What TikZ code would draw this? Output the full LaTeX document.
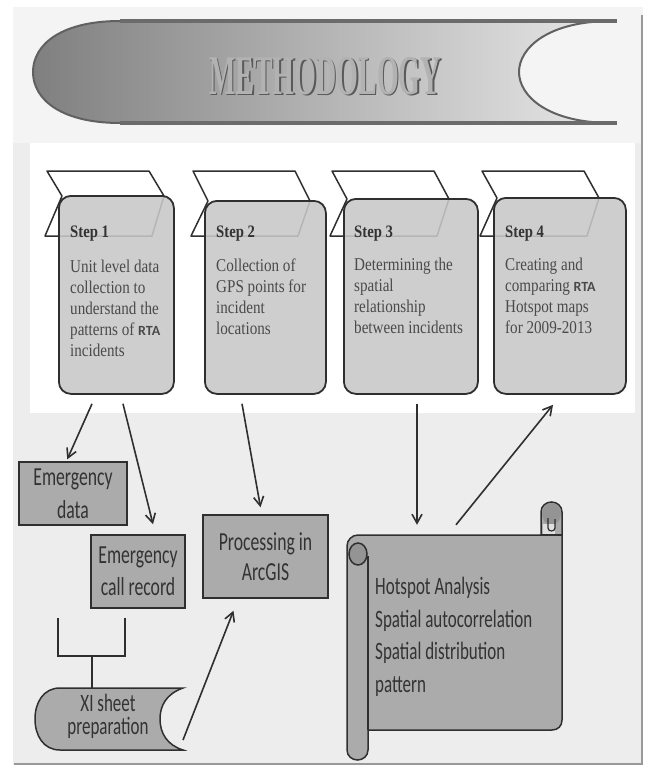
\documentclass[tikz,border=0pt]{standalone}
\usepackage{fontspec}
\setmainfont{Liberation Serif}
\newfontfamily\stepfont[FakeStretch=0.84]{Liberation Serif}
\newfontfamily\boxfont[FakeStretch=0.68]{Carlito}
\newfontfamily\rtafont{Carlito}
\newfontfamily\titlefont[FakeStretch=0.5]{Liberation Serif}
\usetikzlibrary{arrows.meta,calc}
\definecolor{stepfill}{HTML}{C8C8C8}
\definecolor{boxfill}{HTML}{ABABAB}
\definecolor{edgec}{HTML}{2F2F2F}
\definecolor{txt}{HTML}{4A4A4A}
\definecolor{txtdark}{HTML}{333333}
\definecolor{lowbg}{HTML}{EDEDED}
\definecolor{topbg}{HTML}{F4F4F4}
\newcommand\rta{{\rtafont\bfseries\fontsize{14}{14}\selectfont RTA}}
\newcommand\steptab[2]{%
  \draw[edgec, line width=1.5pt, line join=round] (#1-11,171) -- (#1+91,171) -- (#1+106,#2+1) -- (#1+94,236) -- (#1-13,236) -- (#1+4,#2+1) -- cycle;}
\begin{document}
\begin{tikzpicture}[x=1pt,y=-1pt,
  stepbox/.style={draw=edgec, line width=1.8pt, fill=stepfill, fill opacity=0.88, draw opacity=1, rounded corners=12pt, inner sep=0, anchor=north west},
  steptitle/.style={inner sep=0, anchor=base west, text=txtdark, font=\stepfont\bfseries\fontsize{17.5}{17.5}\selectfont},
  stepbody/.style={inner sep=0, anchor=north west, align=left, text=txt, font=\stepfont\fontsize{18}{21}\selectfont},
  lowbox/.style={draw=edgec, line width=1.5pt, fill=boxfill, inner sep=0, align=center, text=txtdark},
  conn/.style={draw=edgec, line width=1.6pt, -{Straight Barb[length=9pt,width=10pt]}},
  shapeline/.style={draw=edgec, line width=1.5pt, fill=boxfill}]
\useasboundingbox (0,0) rectangle (648,768);
% background and frame
\fill[white] (0,0) rectangle (648,768);
\fill[lowbg] (13,7) rectangle (643,765);
\fill[topbg] (13,7) rectangle (643,143);
\draw[black!40, line width=2.5pt] (642,15) -- (642,764) -- (14,764);
\fill[white] (30,143) rectangle (635,413);
% banner
\path[left color=black!50, right color=black!9]
  (120,21) -- (612,21) .. controls (548,21) and (519,48) .. (519,72)
  .. controls (519,96) and (548,123) .. (612,123) -- (120,123)
  .. controls (62,123) and (33,100) .. (33,72) .. controls (33,44) and (62,21) .. (120,21) -- cycle;
\draw[black!62, line width=2pt] (612,21) .. controls (548,21) and (519,48) .. (519,72)
  .. controls (519,96) and (548,123) .. (612,123);
\draw[black!62, line width=2pt] (120,123) .. controls (62,123) and (33,100) .. (33,72) .. controls (33,44) and (62,21) .. (120,21);
\draw[black!58, line width=4pt] (120,21) -- (617,21);
\draw[black!58, line width=4pt] (120,123) -- (617,123);
\node[inner sep=0, text=black!65, font=\titlefont\bfseries\fontsize{56}{56}\selectfont] (titleshadow) at (326.5,77.5) {METHODOLOGY};
\node[inner sep=0, text=black!30, font=\titlefont\bfseries\fontsize{56}{56}\selectfont] (title) at (325,76) {METHODOLOGY};
% step tabs
\steptab{58}{195}
\steptab{204}{200}
\steptab{343}{198}
\steptab{493}{197}
% step boxes
\node[stepbox, minimum width=115pt, minimum height=198pt] (s1) at (58,195) {};
\node[stepbox, minimum width=121pt, minimum height=193pt] (s2) at (204,200) {};
\node[stepbox, minimum width=134pt, minimum height=195pt] (s3) at (343,198) {};
\node[stepbox, minimum width=132pt, minimum height=196pt] (s4) at (493,197) {};
\node[steptitle] (s1t) at (70,237) {Step 1};
\node[steptitle] (s2t) at (216,237) {Step 2};
\node[steptitle] (s3t) at (354,237) {Step 3};
\node[steptitle] (s4t) at (505,237) {Step 4};
\node[stepbody] (s1b) at (70,260) {Unit level data\\collection to\\understand the\\patterns of \rta\\incidents};
\node[stepbody] (s2b) at (216,259) {Collection of\\GPS points for\\incident\\locations};
\node[stepbody] (s3b) at (354,258) {Determining the\\spatial\\relationship\\between incidents};
\node[stepbody] (s4b) at (505,258) {Creating and\\comparing \rta\\Hotspot maps\\for 2009-2013};
% lower boxes
\node[lowbox, minimum width=108pt, minimum height=63pt, font=\boxfont\fontsize{26}{33}\selectfont] (ed) at (73,493.5) {Emergency\\data};
\node[lowbox, minimum width=94pt, minimum height=73pt, font=\boxfont\fontsize{26}{32}\selectfont] (cr) at (138,571.5) {Emergency\\call record};
\node[lowbox, minimum width=125pt, minimum height=83pt, font=\boxfont\fontsize{26}{30}\selectfont] (pa) at (265.5,556.5) {Processing in\\ArcGIS};
% bracket
\draw[edgec, line width=1.5pt] (58,618) -- (58,656) -- (125,656) -- (125,618);
\draw[edgec, line width=1.5pt] (92,656) -- (92,688);
% XI sheet shape
\path[shapeline] (60,688) -- (183,688) .. controls (166,694) and (160,706) .. (160,719)
  .. controls (160,733) and (167,745) .. (183,750) -- (60,750)
  .. controls (43,750) and (35,735) .. (35,719) .. controls (35,703) and (43,688) .. (60,688) -- cycle;
\node[inner sep=0, align=center, text=txtdark, font=\boxfont\fontsize{25}{23}\selectfont] (xi) at (108,716.5) {XI sheet\\preparation};
% scroll shape
\path[shapeline] (347,546) .. controls (347,540) and (352,535) .. (358,535) -- (541,535) -- (541,512)
  .. controls (541,506) and (546,502) .. (551.5,502) .. controls (557,502) and (562,506) .. (562,512)
  -- (562,720) .. controls (562,726) and (558,730) .. (552,730) -- (368,730) -- (368,750)
  .. controls (368,756) and (363,760) .. (357.5,760) .. controls (352,760) and (347,756) .. (347,750) -- cycle;
\draw[edgec, line width=1.5pt] (368,556) -- (368,730);
\filldraw[fill=black!42, draw=edgec, line width=1.5pt] (358,554) ellipse [x radius=9, y radius=11];
\fill[black!42] (551.5,514) ellipse [x radius=9.5, y radius=11];
\fill[black!12] (543,524) rectangle (555,534);
\draw[edgec, line width=1.2pt] (548,518) -- (548,528) .. controls (548,532) and (555,532) .. (555,528) -- (555,519);
\draw[edgec, line width=1.5pt] (541,535) -- (562,535);
\node[inner sep=0, minimum width=194pt, minimum height=195pt] (scroll) at (465,632.5) {};
\node[inner sep=0, anchor=north west, align=left, text=txtdark, font=\boxfont\fontsize{25}{32.7}\selectfont] (sct) at (375,577) {Hotspot Analysis\\Spatial autocorrelation\\Spatial distribution\\pattern};
% connectors
\draw[conn] ([xshift=34pt,yshift=-9pt]s1.south west) -- ([xshift=49pt,yshift=2pt]ed.north west);
\draw[conn] ([xshift=65pt,yshift=-9pt]s1.south west) -- ([xshift=15pt,yshift=10pt]cr.north);
\draw[conn] ([xshift=38pt,yshift=-9pt]s2.south west) -- ([xshift=-5pt,yshift=7pt]pa.north);
\draw[conn] ([xshift=75pt,yshift=-23.5pt]xi.center) -- ([xshift=-32pt,yshift=-12pt]pa.south);
\draw[conn] ([xshift=74pt,yshift=-9pt]s3.south west) -- ([xshift=-48pt,yshift=10pt]scroll.north);
\draw[conn] ([xshift=-9pt,yshift=10pt]scroll.north) -- ([xshift=60pt,yshift=-10pt]s4.south west);
\end{tikzpicture}
\end{document}
